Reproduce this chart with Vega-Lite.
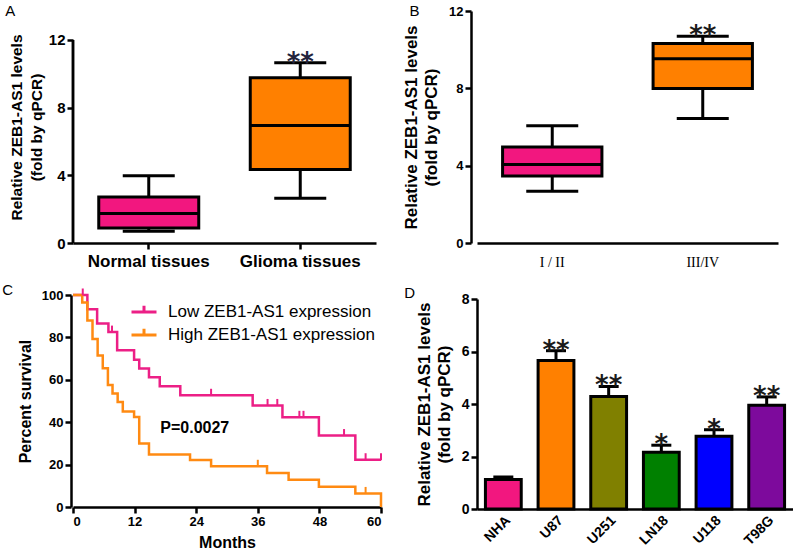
{
  "$schema": "https://vega.github.io/schema/vega-lite/v6.json",
  "background": "white",
  "padding": {"left": 2, "top": 4, "right": 0, "bottom": 0},
  "config": {
    "font": "Liberation Sans",
    "view": {"stroke": null},
    "tick": {"opacity": 1},
    "axis": {"domainColor": "black", "domainWidth": 2.5, "tickColor": "black", "tickWidth": 2.5, "tickSize": 6, "grid": false, "labelColor": "black", "titleColor": "black", "labelFontWeight": "bold", "titleFontWeight": "bold"},
    "title": {"anchor": "start", "frame": "bounds", "fontSize": 15, "fontWeight": "normal", "color": "black"}
  },
  "datasets": {
    "boxA": [
      {"group": "Normal tissues", "lower": 0.69, "q1": 0.89, "median": 1.74, "q3": 2.72, "upper": 3.97, "star": ""},
      {"group": "Glioma tissues", "lower": 2.64, "q1": 4.34, "median": 6.95, "q3": 9.77, "upper": 10.66, "star": "**"}
    ],
    "boxB": [
      {"group": "I / II", "lower": 2.68, "q1": 3.47, "median": 4.06, "q3": 4.97, "upper": 6.06, "star": ""},
      {"group": "III/IV", "lower": 6.44, "q1": 7.99, "median": 9.53, "q3": 10.32, "upper": 10.7, "star": "**"}
    ],
    "km": [
      {"group": "Low ZEB1-AS1 expression", "ord": 1, "month": 0, "surv": 100},
      {"group": "Low ZEB1-AS1 expression", "ord": 2, "month": 2.8, "surv": 93.3},
      {"group": "Low ZEB1-AS1 expression", "ord": 3, "month": 4.7, "surv": 86.5},
      {"group": "Low ZEB1-AS1 expression", "ord": 4, "month": 6.9, "surv": 82.5},
      {"group": "Low ZEB1-AS1 expression", "ord": 5, "month": 8.6, "surv": 73.9},
      {"group": "Low ZEB1-AS1 expression", "ord": 6, "month": 11.9, "surv": 69.5},
      {"group": "Low ZEB1-AS1 expression", "ord": 7, "month": 12.9, "surv": 65.3},
      {"group": "Low ZEB1-AS1 expression", "ord": 8, "month": 14.8, "surv": 61.2},
      {"group": "Low ZEB1-AS1 expression", "ord": 9, "month": 16.9, "surv": 57},
      {"group": "Low ZEB1-AS1 expression", "ord": 10, "month": 20.9, "surv": 52.7},
      {"group": "Low ZEB1-AS1 expression", "ord": 11, "month": 35, "surv": 47.9},
      {"group": "Low ZEB1-AS1 expression", "ord": 12, "month": 40.8, "surv": 42.3},
      {"group": "Low ZEB1-AS1 expression", "ord": 13, "month": 47.9, "surv": 33.7},
      {"group": "Low ZEB1-AS1 expression", "ord": 14, "month": 55, "surv": 22.3},
      {"group": "Low ZEB1-AS1 expression", "ord": 15, "month": 60, "surv": 22.3},
      {"group": "High ZEB1-AS1 expression", "ord": 1, "month": 0, "surv": 100},
      {"group": "High ZEB1-AS1 expression", "ord": 2, "month": 1.8, "surv": 96.5},
      {"group": "High ZEB1-AS1 expression", "ord": 3, "month": 2.8, "surv": 88},
      {"group": "High ZEB1-AS1 expression", "ord": 4, "month": 3.8, "surv": 79.3},
      {"group": "High ZEB1-AS1 expression", "ord": 5, "month": 4.8, "surv": 71.5},
      {"group": "High ZEB1-AS1 expression", "ord": 6, "month": 5.8, "surv": 65.5},
      {"group": "High ZEB1-AS1 expression", "ord": 7, "month": 6.8, "surv": 57.5},
      {"group": "High ZEB1-AS1 expression", "ord": 8, "month": 7.7, "surv": 53.5},
      {"group": "High ZEB1-AS1 expression", "ord": 9, "month": 8.7, "surv": 49.5},
      {"group": "High ZEB1-AS1 expression", "ord": 10, "month": 9.7, "surv": 45},
      {"group": "High ZEB1-AS1 expression", "ord": 11, "month": 11.9, "surv": 42.5},
      {"group": "High ZEB1-AS1 expression", "ord": 12, "month": 12.9, "surv": 30},
      {"group": "High ZEB1-AS1 expression", "ord": 13, "month": 14.8, "surv": 24.8},
      {"group": "High ZEB1-AS1 expression", "ord": 14, "month": 22.8, "surv": 22.2},
      {"group": "High ZEB1-AS1 expression", "ord": 15, "month": 26.9, "surv": 19.2},
      {"group": "High ZEB1-AS1 expression", "ord": 16, "month": 37.8, "surv": 16},
      {"group": "High ZEB1-AS1 expression", "ord": 17, "month": 42, "surv": 12.8},
      {"group": "High ZEB1-AS1 expression", "ord": 18, "month": 47.9, "surv": 9.6},
      {"group": "High ZEB1-AS1 expression", "ord": 19, "month": 55, "surv": 6.4},
      {"group": "High ZEB1-AS1 expression", "ord": 20, "month": 60, "surv": 6.4},
      {"group": "High ZEB1-AS1 expression", "ord": 21, "month": 60, "surv": 0}
    ],
    "censor": [
      {"group": "Low ZEB1-AS1 expression", "month": 1.9, "surv": 100},
      {"group": "Low ZEB1-AS1 expression", "month": 7.6, "surv": 82.5},
      {"group": "Low ZEB1-AS1 expression", "month": 26.9, "surv": 52.7},
      {"group": "Low ZEB1-AS1 expression", "month": 37.9, "surv": 47.9},
      {"group": "Low ZEB1-AS1 expression", "month": 39.8, "surv": 47.9},
      {"group": "Low ZEB1-AS1 expression", "month": 44.1, "surv": 42.3},
      {"group": "Low ZEB1-AS1 expression", "month": 44.9, "surv": 42.3},
      {"group": "Low ZEB1-AS1 expression", "month": 52.8, "surv": 33.7},
      {"group": "Low ZEB1-AS1 expression", "month": 57, "surv": 22.3},
      {"group": "Low ZEB1-AS1 expression", "month": 60, "surv": 22.3},
      {"group": "High ZEB1-AS1 expression", "month": 36, "surv": 19.2},
      {"group": "High ZEB1-AS1 expression", "month": 57, "surv": 6.4}
    ],
    "cells": [
      {"cell": "NHA", "mean": 1.12, "top": 1.22, "star": ""},
      {"cell": "U87", "mean": 5.66, "top": 6.03, "star": "**"},
      {"cell": "U251", "mean": 4.29, "top": 4.67, "star": "**"},
      {"cell": "LN18", "mean": 2.16, "top": 2.43, "star": "*"},
      {"cell": "U118", "mean": 2.77, "top": 3.02, "star": "*"},
      {"cell": "T98G", "mean": 3.95, "top": 4.27, "star": "**"}
    ]
  },
  "spacing": 16,
  "resolve": {"scale": {"color": "independent"}, "legend": {"color": "independent"}},
  "hconcat": [
    {
      "spacing": 13,
      "resolve": {"scale": {"color": "independent"}, "legend": {"color": "independent"}},
      "vconcat": [
        {
          "width": 303, "height": 232,
          "title": {"text": "A", "offset": -8, "dx": -4},
          "data": {"name": "boxA"},
          "encoding": {
            "x": {"field": "group", "type": "nominal", "sort": null, "scale": {"paddingInner": 0, "paddingOuter": 0},
                  "axis": {"title": null, "labelAngle": 0, "labelFontSize": 17, "labelPadding": 4, "tickSize": 6}}
          },
          "layer": [
            {"mark": {"type": "rule", "strokeWidth": 3, "color": "black"},
             "encoding": {"y": {"field": "lower", "type": "quantitative", "scale": {"domain": [0, 13.714], "nice": false},
                                "axis": {"values": [0, 4, 8, 12], "domain": false, "labelFontSize": 15, "labelPadding": 2, "title": ["Relative ZEB1-AS1 levels\u00a0\u00a0\u00a0\u00a0\u00a0", "(fold by qPCR)\u00a0\u00a0\u00a0\u00a0\u00a0"], "titleFontSize": 15.5, "titleLineHeight": 20, "titlePadding": 4}},
                          "y2": {"field": "upper"}}},
            {"mark": {"type": "rule", "strokeWidth": 2.5, "color": "black"},
             "encoding": {"x": {"datum": "Normal tissues", "type": "nominal", "bandPosition": 0}, "y": {"datum": 0, "type": "quantitative"}, "y2": {"datum": 12}}},
            {"mark": {"type": "bar", "width": {"band": 0.66}, "stroke": "black", "strokeWidth": 3},
             "encoding": {"y": {"field": "q1", "type": "quantitative"}, "y2": {"field": "q3"},
                          "color": {"field": "group", "type": "nominal", "scale": {"domain": ["Normal tissues", "Glioma tissues"], "range": ["#F2177F", "#FF8000"]}, "legend": null}}},
            {"mark": {"type": "tick", "size": 101, "thickness": 3, "color": "black"},
             "encoding": {"y": {"field": "median", "type": "quantitative"}}},
            {"mark": {"type": "tick", "size": 52, "thickness": 3, "color": "black"},
             "encoding": {"y": {"field": "lower", "type": "quantitative"}}},
            {"mark": {"type": "tick", "size": 52, "thickness": 3, "color": "black"},
             "encoding": {"y": {"field": "upper", "type": "quantitative"}}},
            {"mark": {"type": "text", "font": "DejaVu Sans", "fontWeight": "bold", "fontSize": 26, "baseline": "middle", "color": "#24243c"},
             "encoding": {"y": {"field": "upper", "type": "quantitative"}, "text": {"field": "star"}}}
          ]
        },
        {
          "width": 308, "height": 212,
          "title": {"text": "C", "offset": -9, "dx": -15},
          "layer": [
            {"data": {"name": "km"},
             "mark": {"type": "line", "interpolate": "step-after", "strokeWidth": 2.5},
             "encoding": {
               "x": {"field": "month", "type": "quantitative", "scale": {"domain": [0, 60], "nice": false},
                     "axis": {"values": [0, 12, 24, 36, 48, 60], "labelFontSize": 13, "labelPadding": 2, "title": "Months", "titleFontSize": 16, "titlePadding": 6}},
               "y": {"field": "surv", "type": "quantitative", "scale": {"domain": [0, 100], "nice": false},
                     "axis": {"values": [0, 20, 40, 60, 80, 100], "labelFontSize": 13, "labelPadding": 2, "offset": 2, "title": "Percent survival", "titleFontSize": 16, "titlePadding": 8}},
               "color": {"field": "group", "type": "nominal",
                         "scale": {"domain": ["Low ZEB1-AS1 expression", "High ZEB1-AS1 expression"], "range": ["#EC1F86", "#FF8A12"]},
                         "legend": {"orient": "none", "legendX": 57, "legendY": 3, "title": null, "symbolType": "M-1,0L1,0M0,0L0,-0.5", "symbolSize": 625, "symbolStrokeWidth": 3, "labelFontSize": 17, "labelFont": "Liberation Sans", "labelColor": "black", "labelOffset": 10, "labelLimit": 0, "rowPadding": 1}},
               "order": {"field": "ord", "type": "quantitative"}
             }},
            {"data": {"name": "censor"},
             "mark": {"type": "tick", "orient": "vertical", "size": 7, "thickness": 2, "yOffset": -3},
             "encoding": {
               "x": {"field": "month", "type": "quantitative"},
               "y": {"field": "surv", "type": "quantitative"},
               "color": {"field": "group", "type": "nominal", "legend": null}
             }},
            {"data": {"values": [{}]},
             "mark": {"type": "text", "fontSize": 16, "fontWeight": "bold", "align": "left", "baseline": "middle", "color": "black"},
             "encoding": {"x": {"datum": 17}, "y": {"datum": 37.5}, "text": {"value": "P=0.0027"}}}
          ]
        }
      ]
    },
    {
      "spacing": 17,
      "resolve": {"scale": {"color": "independent"}, "legend": {"color": "independent"}},
      "vconcat": [
        {
          "width": 301, "height": 232,
          "title": {"text": "B", "offset": -14, "dx": 7},
          "data": {"name": "boxB"},
          "encoding": {
            "x": {"field": "group", "type": "nominal", "sort": null, "scale": {"paddingInner": 0, "paddingOuter": 0},
                  "axis": {"title": null, "labelAngle": 0, "labelFont": "Liberation Serif", "labelFontWeight": "normal", "labelFontSize": 14, "labelPadding": 12, "ticks": false}}
          },
          "layer": [
            {"mark": {"type": "rule", "strokeWidth": 3, "color": "black"},
             "encoding": {"y": {"field": "lower", "type": "quantitative", "scale": {"domain": [0, 12], "nice": false},
                                "axis": {"values": [0, 4, 8, 12], "offset": 6, "labelFontSize": 13, "labelPadding": 2, "title": ["Relative ZEB1-AS1 levels", "(fold by qPCR)"], "titleFontSize": 17, "titleLineHeight": 20, "titlePadding": 8}},
                          "y2": {"field": "upper"}}},
            {"mark": {"type": "bar", "width": {"band": 0.66}, "stroke": "black", "strokeWidth": 3},
             "encoding": {"y": {"field": "q1", "type": "quantitative"}, "y2": {"field": "q3"},
                          "color": {"field": "group", "type": "nominal", "scale": {"domain": ["I / II", "III/IV"], "range": ["#F2177F", "#FF8000"]}, "legend": null}}},
            {"mark": {"type": "tick", "size": 101, "thickness": 3, "color": "black"},
             "encoding": {"y": {"field": "median", "type": "quantitative"}}},
            {"mark": {"type": "tick", "size": 52, "thickness": 3, "color": "black"},
             "encoding": {"y": {"field": "lower", "type": "quantitative"}}},
            {"mark": {"type": "tick", "size": 52, "thickness": 3, "color": "black"},
             "encoding": {"y": {"field": "upper", "type": "quantitative"}}},
            {"mark": {"type": "text", "font": "DejaVu Sans", "fontWeight": "bold", "fontSize": 26, "baseline": "middle", "color": "#1a1a1a"},
             "encoding": {"y": {"field": "upper", "type": "quantitative"}, "text": {"field": "star"}}}
          ]
        },
        {
          "width": 316, "height": 210,
          "title": {"text": "D", "offset": -9, "dx": -11},
          "data": {"name": "cells"},
          "encoding": {
            "x": {"field": "cell", "type": "nominal", "sort": null, "scale": {"paddingInner": 0.32, "paddingOuter": 0.16},
                  "axis": {"title": null, "labelAngle": -45, "labelFontSize": 14, "labelPadding": 4, "ticks": false}}
          },
          "layer": [
            {"mark": {"type": "rule", "strokeWidth": 3, "color": "black"},
             "encoding": {"y": {"field": "mean", "type": "quantitative", "scale": {"domain": [0, 8], "nice": false},
                                "axis": {"values": [0, 2, 4, 6, 8], "labelFontSize": 14, "labelPadding": 2, "title": ["Relative ZEB1-AS1 levels", "(fold by qPCR)"], "titleFontSize": 17, "titleLineHeight": 20, "titlePadding": 8}},
                          "y2": {"field": "top"}}},
            {"mark": {"type": "tick", "size": 20, "thickness": 3, "color": "black"},
             "encoding": {"y": {"field": "top", "type": "quantitative"}}},
            {"mark": {"type": "bar", "stroke": "black", "strokeWidth": 3},
             "encoding": {"y": {"field": "mean", "type": "quantitative"},
                          "color": {"field": "cell", "type": "nominal", "scale": {"domain": ["NHA", "U87", "U251", "LN18", "U118", "T98G"], "range": ["#F2177F", "#FF8000", "#808000", "#008000", "#0000FF", "#7D0A9C"]}, "legend": null}}},
            {"mark": {"type": "text", "font": "DejaVu Sans", "fontWeight": "bold", "fontSize": 26, "baseline": "middle", "color": "#1a1a1a"},
             "encoding": {"y": {"field": "top", "type": "quantitative"}, "text": {"field": "star"}}}
          ]
        }
      ]
    }
  ]
}
